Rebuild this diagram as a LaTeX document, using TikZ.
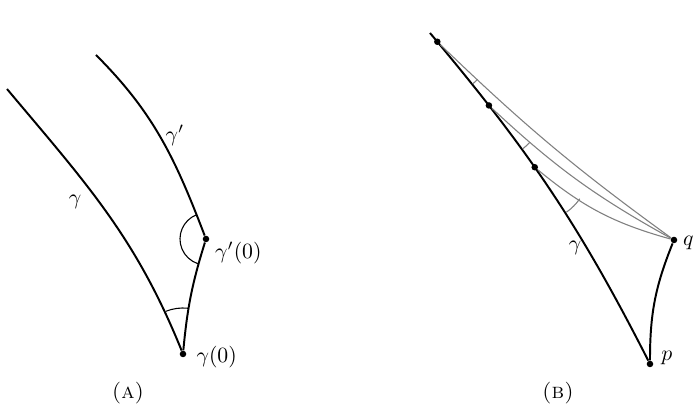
\documentclass[tikz,border=0pt]{standalone}
\usepackage{tikz}
\usepackage{mathtools}
\usetikzlibrary{positioning}

\begin{document}
\begin{tikzpicture}[x=0.46pt,y=0.46pt,
    dot/.style={circle,fill=black,inner sep=0pt,minimum size=3pt},
    geo/.style={black,line width=0.9pt},
    chord/.style={gray,line width=0.5pt},
    ang/.style={black,line width=0.5pt}]
  \useasboundingbox (0,0) rectangle (698,407);
  % (A)
  \coordinate (gtop) at (7,318);
  \coordinate (gptop) at (96,352);
  \node [dot] (g0) at (183,53) {};
  \node [dot] (gp0) at (206,168) {};
  \draw [geo] (gtop) to[out=-50,in=112] (g0);
  \draw [geo] (gptop) to[out=-45,in=111] (gp0);
  \draw [geo] (g0) to[bend left=6] (gp0);
  \draw [ang] (gp0.center) ++(112:26) arc[start angle=112,end angle=252,radius=26];
  \draw [ang] (g0.center) ++(84:46) arc[start angle=84,end angle=112,radius=46];
  \node (lg) at (75,205) {$\gamma$};
  \node (lgp) at (175,272) {$\gamma'$};
  \node [right=1pt of g0,yshift=-1.4pt] (lg0) {$\gamma(0)$};
  \node [right=-1pt of gp0,yshift=-6.4pt] (lgp0) {$\gamma'(0)$};
  \node (capa) at (128,14) {\textsc{(a)}};
  % (B)
  \coordinate (btop) at (430,374);
  \node [dot] (p) at (650,43) {};
  \node [dot] (q) at (674,167) {};
  \draw [geo] (btop) to[out=-50,in=117]
      node [dot,pos=0.025] (b1) {}
      node [dot,pos=0.22] (b2) {}
      node [dot,pos=0.425] (b3) {} (p);
  \draw [chord] (b1) to[bend right=4] (q);
  \draw [chord] (b2) to[bend right=7] (q);
  \draw [chord] (b3) to[bend right=12] (q);
  \draw [chord] (b1.center) ++(-50:55) arc[start angle=-50,end angle=-43,radius=55];
  \draw [chord] (b2.center) ++(-52:55) arc[start angle=-52,end angle=-42,radius=55];
  \draw [chord] (b3.center) ++(-55:55) arc[start angle=-55,end angle=-35,radius=55];
  \draw [geo] (p) to[bend left=11] (q);
  \node (lgb) at (575,159) {$\gamma$};
  \node [right=-1pt of q,yshift=-1.4pt] (lq) {$q$};
  \node [right=0pt of p,yshift=2.8pt] (lp) {$p$};
  \node (capb) at (558,14) {\textsc{(b)}};
\end{tikzpicture}
\end{document}
